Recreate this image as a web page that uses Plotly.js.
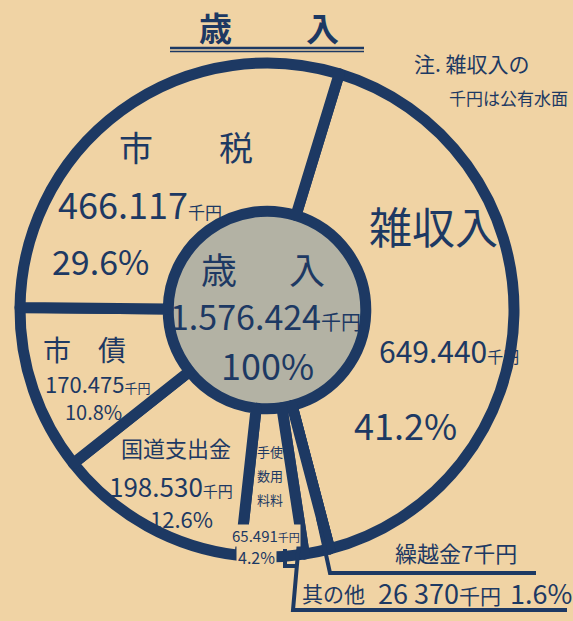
<!DOCTYPE html>
<html>
<head>
<meta charset="utf-8">
<script src="https://cdn.plot.ly/plotly-3.0.1.min.js"></script>
<style>html,body{margin:0;padding:0;background:#f0d3a4;}#chart{width:573px;height:621px;}</style>
</head>
<body>
<div id="chart"></div>
<script>
// ---- data (千円) ----
const categories = ['雑収入', '繰越金', '其の他', '手数料・使用料', '国道支出金', '市債', '市税'];
const amounts = [649440, 7, 26370, 65491, 198530, 170475, 466117];
const amountLabels = ['649.440', '7', '26 370', '65.491', '198.530', '170.475', '466.117'];
const percentLabels = ['41.2%', '', '1.6%', '4.2%', '12.6%', '10.8%', '29.6%'];
const totalLabel = '1.576.424';
const totalPercent = '100%';
const titleText = '歳入';
const noteLines = ['注. 雑収入の', '千円は公有水面'];

const W = 573, H = 621;
const NAVY = '#1d3963';
const BG = '#f0d3a4';
const FONT = 'Noto Sans CJK JP';
const px = x => x / W;
const py = y => 1 - y / H;

// pie geometry (pixels)
const cx = 267, cy = 310, R = 247, HOLE = 0.4;

const trace = {
  type: 'pie',
  labels: categories,
  values: amounts,
  sort: false,
  direction: 'clockwise',
  rotation: 17,
  hole: HOLE,
  textinfo: 'none',
  hoverinfo: 'label+value',
  marker: { colors: categories.map(() => BG), line: { color: NAVY, width: 11 } },
  domain: { x: [px(cx - R), px(cx + R)], y: [py(cy + R), py(cy - R)] },
  showlegend: false
};

const idx = name => categories.indexOf(name);
const small = (t, s) => `<span style="font-size:${s}px">${t}</span>`;

function ann(text, x, y, size, opts) {
  return Object.assign({
    text: text, x: px(x), y: py(y), xref: 'paper', yref: 'paper',
    xanchor: 'left', yanchor: 'middle', showarrow: false,
    font: { family: FONT, size: size, color: NAVY }
  }, opts || {});
}
const C = { xanchor: 'center' };
const split2 = (s, x1, x2, y, size, extra) => [
  ann(s[0], x1, y, size, Object.assign({ xanchor: 'center' }, extra || {})),
  ann(s[s.length - 1], x2, y, size, Object.assign({ xanchor: 'center' }, extra || {}))
];

const annotations = [
  ...split2(titleText, 215, 322, 27, 33, { font: { family: FONT, size: 33, color: NAVY, weight: 700 } }),
  ann(noteLines[0], 412, 63, 21),
  ann(noteLines[1], 447, 97, 17),
  // 市税
  ...split2(categories[idx('市税')], 136, 236, 147, 34),
  ann(amountLabels[idx('市税')] + small('千円', 17), 56, 203, 36),
  ann(percentLabels[idx('市税')], 50, 260, 34),
  // 雑収入
  ann(categories[idx('雑収入')], 433, 225, 43, C),
  ann(amountLabels[idx('雑収入')] + small('千円', 16), 377, 350, 30),
  ann(percentLabels[idx('雑収入')], 352, 424, 36),
  // 市債
  ...split2(categories[idx('市債')], 57, 112, 349, 28),
  ann(amountLabels[idx('市債')] + small('千円', 13), 43, 383, 22),
  ann(percentLabels[idx('市債')], 93, 411, 20, C),
  // 国道支出金
  ann(categories[idx('国道支出金')], 119, 447, 22),
  ann(amountLabels[idx('国道支出金')] + small('千円', 15), 107, 485, 26),
  ann(percentLabels[idx('国道支出金')], 148, 518, 22),
  // 手数料・使用料 (vertical)
  ...['手数料', '使用料'].flatMap((col, c) => col.split('').map((ch, r) =>
    ann(ch, 263 + c * 13, [451, 475, 499][r], 13, C))),
  ann(amountLabels[idx('手数料・使用料')] + small('千円', 11), 231, 535, 15, { bgcolor: BG, borderpad: 0 }),
  ann(percentLabels[idx('手数料・使用料')], 236, 557, 16, { bgcolor: BG, borderpad: 1 }),
  // 繰越金
  ann(categories[idx('繰越金')] + amountLabels[idx('繰越金')] + '千円', 393, 552, 22),
  // 其の他
  ann(categories[idx('其の他')], 300, 593, 21),
  ann(amountLabels[idx('其の他')] + small('千円', 21), 376, 592, 27),
  ann(percentLabels[idx('其の他')], 508, 592, 27),
  // center
  ...split2(titleText, 219, 307, 268, 36),
  ann(totalLabel + small('千円', 20), cx - 2, 315, 34, C),
  ann(totalPercent, cx, 364, 36, C)
];

const toPath = pts => pts.map((p, i) => (i ? 'L' : 'M') + px(p[0]) + ',' + py(p[1])).join(' ');
const hr = R * HOLE + 1;

const shapes = [
  { type: 'circle', xref: 'paper', yref: 'paper', layer: 'below',
    x0: px(cx - hr), x1: px(cx + hr), y0: py(cy + hr), y1: py(cy - hr),
    fillcolor: '#b3b2a4', line: { width: 0 } },
  { type: 'line', xref: 'paper', yref: 'paper', x0: px(170), x1: px(364), y0: py(48), y1: py(48), line: { color: NAVY, width: 2.5 } },
  { type: 'line', xref: 'paper', yref: 'paper', x0: px(170), x1: px(364), y0: py(51.5), y1: py(51.5), line: { color: NAVY, width: 1.5 } },
  { type: 'path', xref: 'paper', yref: 'paper', path: toPath([[318, 518], [330, 573], [536, 573]]), line: { color: NAVY, width: 4 } },
  { type: 'path', xref: 'paper', yref: 'paper', path: toPath([[300, 530], [293, 610], [567, 610]]), line: { color: NAVY, width: 4 } },
  { type: 'path', xref: 'paper', yref: 'paper', path: toPath([[285, 549], [285, 566], [296, 566]]), line: { color: NAVY, width: 4 } }
];

const layout = {
  width: W, height: H,
  margin: { l: 0, r: 0, t: 0, b: 0 },
  paper_bgcolor: BG, plot_bgcolor: BG,
  font: { family: FONT, color: NAVY },
  annotations: annotations,
  shapes: shapes
};

Plotly.newPlot('chart', [trace], layout, { displayModeBar: false, staticPlot: true });
</script>
</body>
</html>
